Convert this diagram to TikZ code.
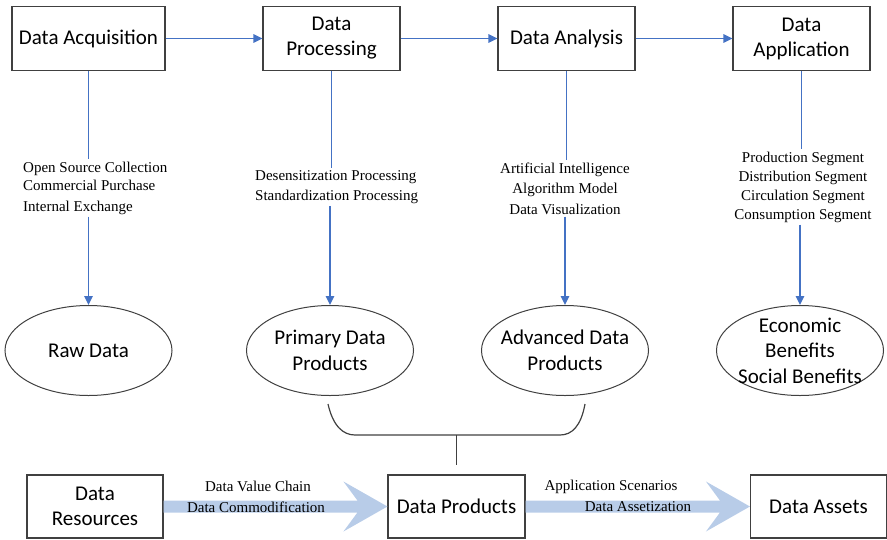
\documentclass[tikz,border=0pt]{standalone}
\usepackage{fontspec}
\setmainfont{Liberation Serif}
\newfontfamily\boxfont{Carlito}
\usetikzlibrary{shapes.geometric,arrows.meta,calc}
\definecolor{flowblue}{RGB}{68,114,196}
\definecolor{edgegray}{RGB}{64,64,64}
\definecolor{bandblue}{RGB}{184,204,232}

\begin{document}
\begin{tikzpicture}[x=1pt,y=-1pt,
  stage/.style={draw=edgegray,line width=1.1pt,minimum width=137pt,minimum height=64pt,
    inner sep=0pt,align=center,font=\boxfont\fontsize{21}{25}\selectfont},
  outcome/.style={ellipse,draw=edgegray,line width=1pt,minimum width=167pt,minimum height=90pt,inner sep=0pt},
  outtext/.style={align=center,font=\boxfont\fontsize{21}{25.5}\selectfont},
  note/.style={font=\fontsize{15}{19.5}\selectfont,inner sep=2pt},
  flow/.style={draw=flowblue,line width=1.5pt},
  flowarrow/.style={flow,-{Triangle[length=9pt,width=8.5pt]}},
  band/.style={fill=bandblue},
  mergeline/.style={draw=edgegray,line width=1.2pt}
]
\useasboundingbox (0,0) rectangle (887,539);

% process stages
\node[stage,minimum width=153pt] (acq) at (88.5,38.5) {Data Acquisition};
\node[stage] (proc) at (331.5,38.5) {Data\\Processing};
\node[stage] (ana) at (566.5,38.5) {Data Analysis};
\node[stage] (app) at (801.5,38.5) {Data\\Application};

\draw[flowarrow] (acq.east) -- (proc.west);
\draw[flowarrow] (proc.east) -- (ana.west);
\draw[flowarrow] (ana.east) -- (app.west);

% outcomes of each stage
\node[outcome] (raw) at (88.5,350.5) {};
\node[outtext] at (raw) {Raw Data};
\node[outcome] (prim) at (330,350.5) {};
\node[outtext] at (prim) {Primary Data\\Products};
\node[outcome] (adv) at (565,350.5) {};
\node[outtext] at (adv) {Advanced Data\\Products};
\node[outcome] (ben) at (800,350.5) {};
\node[outtext] at (ben) {Economic\\Benefits\\Social Benefits};

% methods used in each stage
\node[note,align=left,anchor=west,font=\fontsize{15}{18.5}\selectfont] (l1) at (21,188)
  {Open Source Collection\\Commercial Purchase\\[2pt]Internal Exchange};
\node[note,align=left,anchor=west,font=\fontsize{15}{20}\selectfont] (l2) at (253,187)
  {Desensitization Processing\\Standardization Processing};
\node[note,align=center,font=\fontsize{15}{20.5}\selectfont] (l3) at (565,188.5)
  {Artificial Intelligence\\Algorithm Model\\Data Visualization};
\node[note,align=center,font=\fontsize{15}{19}\selectfont] (l4) at (803,187)
  {Production Segment\\Distribution Segment\\Circulation Segment\\Consumption Segment};

\draw[flow] (acq.south) -- (acq.south |- l1.north);
\draw[flowarrow] (raw.north |- l1.south) -- (raw.north);
\draw[flow] (proc.south) -- (proc.south |- l2.north);
\draw[flowarrow] (prim.north |- l2.south) -- (prim.north);
\draw[flow] (ana.south) -- (ana.south |- l3.north);
\draw[flowarrow] (adv.north |- l3.south) -- (adv.north);
\draw[flow] (app.south) -- (app.south |- l4.north);
\draw[flowarrow] (ben.north |- l4.south) -- (ben.north);

% value chain
\node[stage,minimum width=136pt,minimum height=63pt] (res) at (95,506.5) {Data\\Resources};
\node[stage,minimum height=63pt] (prod) at (456.5,506.5) {Data Products};
\node[stage,minimum width=136pt,minimum height=63pt] (assets) at (818.5,506.5) {Data Assets};

\fill[band] ($(res.east)+(0,-6)$) -- ($(prod.west)+(-30,-6)$) -- ($(prod.west)+(-44,-25)$)
  -- (prod.west) -- ($(prod.west)+(-44,25)$) -- ($(prod.west)+(-30,6)$)
  -- ($(res.east)+(0,6)$) -- cycle;
\fill[band] ($(prod.east)+(0,-6)$) -- ($(assets.west)+(-30,-6)$) -- ($(assets.west)+(-44,-25)$)
  -- (assets.west) -- ($(assets.west)+(-44,25)$) -- ($(assets.west)+(-30,6)$)
  -- ($(prod.east)+(0,6)$) -- cycle;

\node[note] (vc) at (258,486) {Data Value Chain};
\node[note] (dc) at (256,507) {Data Commodification};
\node[note] (sc) at (611,487) {Application Scenarios};
\node[note] (dz) at (638,507) {Data Assetization};

% products merge into data products
\coordinate (bl) at ($(prim.south)+(-2,8)$);
\coordinate (br) at ($(adv.south)+(20,8)$);
\coordinate (bm) at ($(bl)+(0,31)$);
\draw[mergeline] (bl) .. controls ($(bl)+(5,22)$) and ($(bl)+(15,31)$) .. ($(bl)+(27,31)$)
  -- ($(br)+(-25,31)$) .. controls ($(br)+(-13,31)$) and ($(br)+(-4,22)$) .. (br);
\draw[mergeline] (prod.north |- bm) -- ($(prod.north)+(0,-9)$);
\end{tikzpicture}
\end{document}
